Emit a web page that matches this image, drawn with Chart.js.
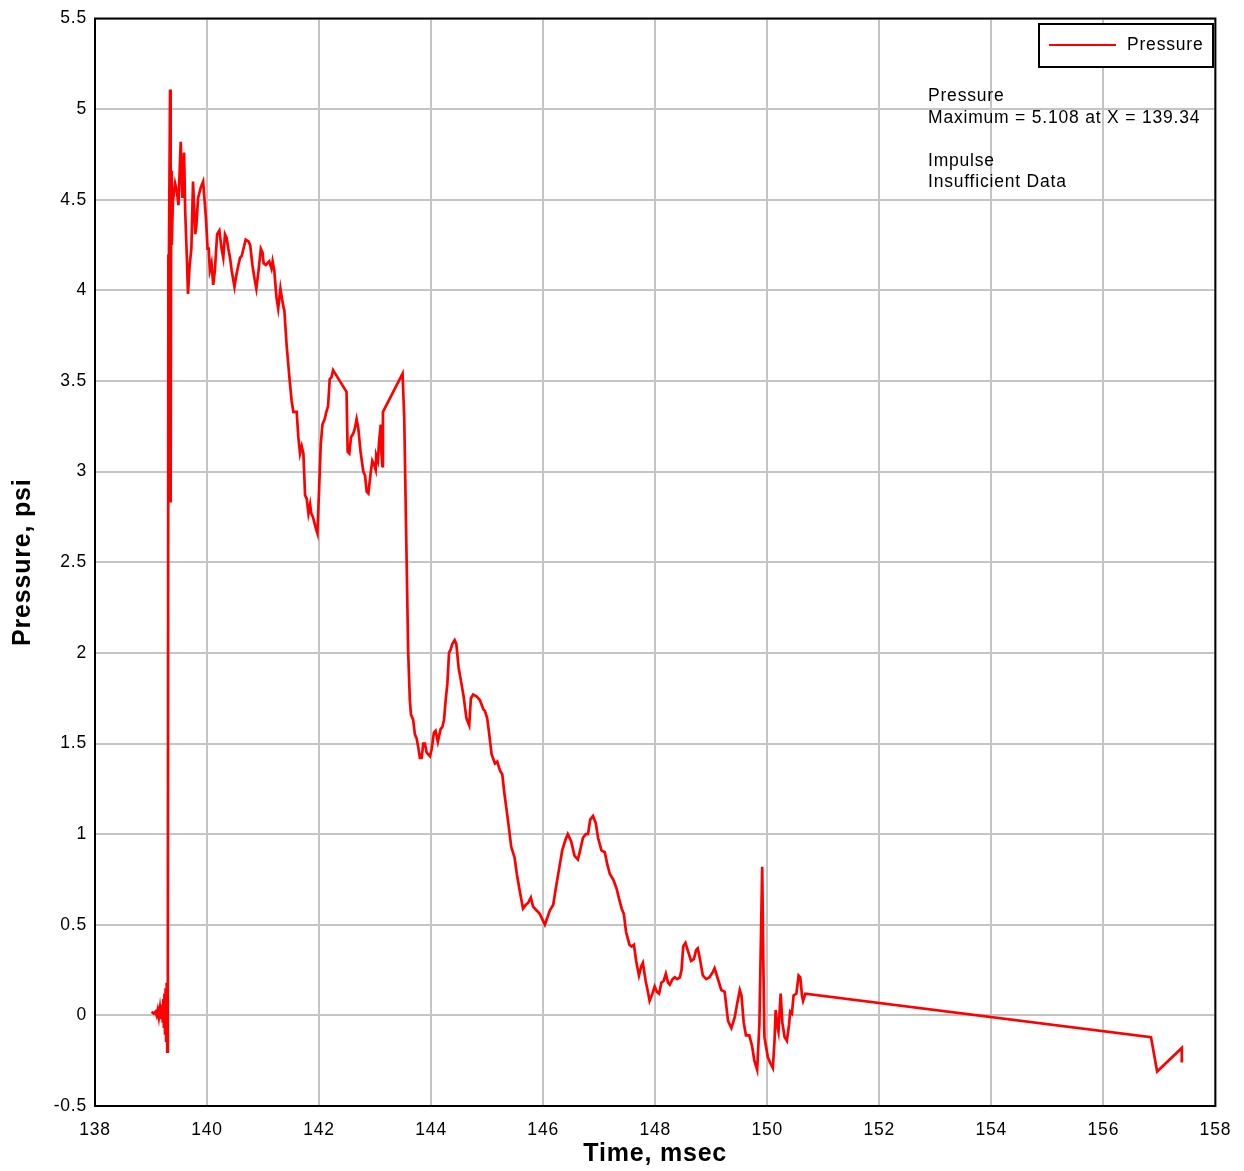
<!DOCTYPE html>
<html lang="en">
<head>
    <meta charset="UTF-8">
    <title>Pressure</title>
    <script src="https://cdn.jsdelivr.net/npm/chart.js"></script>
    <style>
        body { margin: 0; background: #fff; }
        canvas { display: block; }
    </style>
</head>
<body>
    <canvas id="pressureChart" width="1244" height="1171"></canvas>

    <script>
        // gauge record, time in msec
        var times = [
            139.01, 139.05, 139.08, 139.10, 139.12, 139.14, 139.16, 139.18, 139.20, 139.21,
            139.22, 139.23, 139.24, 139.25, 139.26, 139.27, 139.28, 139.29, 139.30, 139.31,
            139.32, 139.34, 139.35, 139.36, 139.37, 139.39, 139.43, 139.46, 139.49, 139.53,
            139.56, 139.59, 139.61, 139.64, 139.66, 139.69, 139.72, 139.75, 139.79, 139.81,
            139.84, 139.89, 139.93, 139.98, 140.01, 140.03, 140.05, 140.08, 140.11, 140.14,
            140.18, 140.22, 140.26, 140.29, 140.32, 140.35, 140.38, 140.41, 140.44, 140.49,
            140.52, 140.56, 140.59, 140.62, 140.65, 140.69, 140.74, 140.77, 140.81, 140.85,
            140.88, 140.92, 140.96, 140.99, 141.01, 141.05, 141.11, 141.15, 141.17, 141.20,
            141.24, 141.27, 141.31, 141.34, 141.37, 141.38, 141.42, 141.47, 141.51, 141.54,
            141.60, 141.63, 141.66, 141.69, 141.72, 141.75, 141.78, 141.81, 141.84, 141.86,
            141.89, 141.94, 141.97, 141.99, 142.03, 142.06, 142.10, 142.13, 142.16, 142.19,
            142.22, 142.25, 142.49, 142.51, 142.54, 142.57, 142.61, 142.64, 142.67, 142.70,
            142.74, 142.79, 142.82, 142.85, 142.88, 142.92, 142.95, 142.98, 143.01, 143.02,
            143.05, 143.07, 143.10, 143.11, 143.13, 143.14, 143.49, 143.52, 143.56, 143.59,
            143.62, 143.64, 143.68, 143.71, 143.74, 143.77, 143.80, 143.83, 143.86, 143.89,
            143.92, 143.98, 144.01, 144.05, 144.08, 144.12, 144.17, 144.20, 144.23, 144.26,
            144.29, 144.32, 144.35, 144.38, 144.42, 144.45, 144.49, 144.53, 144.58, 144.63,
            144.68, 144.71, 144.75, 144.81, 144.87, 144.93, 144.96, 145.00, 145.03, 145.08,
            145.14, 145.18, 145.23, 145.27, 145.31, 145.37, 145.43, 145.49, 145.53, 145.58,
            145.64, 145.69, 145.73, 145.78, 145.82, 145.88, 145.94, 146.03, 146.12, 146.18,
            146.22, 146.28, 146.34, 146.40, 146.44, 146.50, 146.56, 146.62, 146.66, 146.71,
            146.76, 146.80, 146.84, 146.89, 146.94, 146.98, 147.04, 147.10, 147.14, 147.19,
            147.25, 147.31, 147.35, 147.40, 147.44, 147.48, 147.54, 147.58, 147.62, 147.66,
            147.71, 147.75, 147.78, 147.83, 147.87, 147.90, 147.95, 147.99, 148.03, 148.07,
            148.11, 148.15, 148.19, 148.23, 148.26, 148.31, 148.35, 148.39, 148.44, 148.47,
            148.50, 148.54, 148.58, 148.64, 148.69, 148.73, 148.76, 148.80, 148.85, 148.91,
            148.97, 149.03, 149.06, 149.10, 149.18, 149.24, 149.30, 149.36, 149.42, 149.46,
            149.51, 149.54, 149.58, 149.62, 149.68, 149.73, 149.77, 149.82, 149.86, 149.91,
            149.93, 149.95, 150.01, 150.05, 150.10, 150.13, 150.15, 150.18, 150.20, 150.24,
            150.27, 150.31, 150.35, 150.39, 150.41, 150.44, 150.47, 150.52, 150.56, 150.59,
            150.62, 150.64, 150.68, 156.85, 156.96, 157.40, 157.40
        ];

        // pressure in psi
        var pressures = [
            0.02, 0.01, 0.02, 0.00, 0.03, -0.01, 0.04, -0.02, 0.06, -0.04,
            0.09, -0.07, 0.12, -0.10, 0.15, -0.14, 0.18, -0.20, 0.05, 4.19,
            4.20, 5.108, 2.83, 4.66, 4.25, 4.49, 4.59, 4.55, 4.47, 4.82,
            4.51, 4.76, 4.44, 4.18, 3.98, 4.14, 4.23, 4.60, 4.31, 4.36,
            4.51, 4.57, 4.60, 4.40, 4.23, 4.23, 4.11, 4.15, 4.03, 4.11,
            4.31, 4.33, 4.23, 4.18, 4.31, 4.29, 4.23, 4.18, 4.11, 4.02,
            4.08, 4.14, 4.18, 4.19, 4.23, 4.28, 4.27, 4.25, 4.14, 4.06,
            4.01, 4.11, 4.23, 4.21, 4.15, 4.14, 4.16, 4.12, 4.16, 4.11,
            3.96, 3.90, 4.01, 3.95, 3.90, 3.89, 3.70, 3.52, 3.39, 3.33,
            3.33, 3.19, 3.10, 3.14, 3.10, 2.87, 2.85, 2.77, 2.82, 2.77,
            2.75, 2.69, 2.66, 2.82, 3.15, 3.26, 3.29, 3.33, 3.36, 3.51,
            3.52, 3.56, 3.44, 3.11, 3.10, 3.19, 3.21, 3.24, 3.29, 3.24,
            3.11, 3.00, 2.98, 2.89, 2.88, 2.99, 3.06, 3.04, 3.01, 3.09,
            3.06, 3.16, 3.26, 3.12, 3.03, 3.33, 3.54, 3.30, 2.56, 2.01,
            1.74, 1.66, 1.63, 1.55, 1.53, 1.48, 1.42, 1.42, 1.50, 1.50,
            1.45, 1.43, 1.47, 1.56, 1.57, 1.51, 1.58, 1.59, 1.63, 1.74,
            1.83, 2.00, 2.02, 2.05, 2.07, 2.05, 1.92, 1.85, 1.76, 1.64,
            1.60, 1.75, 1.77, 1.76, 1.74, 1.69, 1.68, 1.64, 1.57, 1.44,
            1.39, 1.40, 1.35, 1.33, 1.22, 1.08, 0.93, 0.87, 0.78, 0.69,
            0.59, 0.61, 0.62, 0.65, 0.60, 0.58, 0.56, 0.50, 0.58, 0.61,
            0.69, 0.80, 0.91, 0.97, 1.00, 0.96, 0.88, 0.86, 0.91, 0.98,
            1.00, 1.00, 1.08, 1.10, 1.06, 0.98, 0.91, 0.90, 0.84, 0.78,
            0.75, 0.70, 0.65, 0.59, 0.56, 0.46, 0.39, 0.38, 0.39, 0.30,
            0.22, 0.27, 0.29, 0.19, 0.13, 0.08, 0.12, 0.16, 0.13, 0.12,
            0.18, 0.19, 0.23, 0.18, 0.17, 0.20, 0.21, 0.20, 0.21, 0.25,
            0.38, 0.40, 0.36, 0.30, 0.31, 0.36, 0.37, 0.31, 0.22, 0.20,
            0.21, 0.24, 0.26, 0.22, 0.14, 0.13, -0.03, -0.07, -0.01, 0.06,
            0.14, 0.11, -0.04, -0.11, -0.11, -0.17, -0.25, -0.30, -0.05, 0.82,
            0.30, -0.12, -0.23, -0.26, -0.29, -0.14, 0.03, -0.06, -0.09, 0.12,
            -0.04, -0.12, -0.14, -0.05, 0.02, 0.01, 0.11, 0.12, 0.22, 0.21,
            0.11, 0.08, 0.12, -0.12, -0.31, -0.18, -0.26
        ];

        var xTicks = [138, 140, 142, 144, 146, 148, 150, 152, 154, 156, 158];
        var yTicks = [-0.5, 0, 0.5, 1, 1.5, 2, 2.5, 3, 3.5, 4, 4.5, 5, 5.5];

        var points = times.map(function (t, i) {
            return { x: t, y: pressures[i] };
        });

        // peak for the summary text
        var peakIndex = 0;
        pressures.forEach(function (p, i) {
            if (p > pressures[peakIndex]) peakIndex = i;
        });

        var FONT = 'Liberation Sans, Arial, Helvetica, sans-serif';
        var TEXT_SIZE = 17.5;
        Chart.defaults.font.family = FONT;
        Chart.defaults.font.size = TEXT_SIZE;
        Chart.defaults.color = '#000';

        // slightly wider lettering for all labels
        var spacing = {
            id: 'spacing',
            beforeDraw: function (chart) {
                chart.ctx.letterSpacing = '0.8px';
            }
        };

        // frame, legend box and summary text inside the plot
        var overlay = {
            id: 'overlay',
            afterDraw: function (chart) {
                var ctx = chart.ctx;
                var a = chart.chartArea;
                ctx.save();
                ctx.strokeStyle = '#000';
                ctx.lineWidth = 2;
                ctx.strokeRect(a.left, a.top, a.right - a.left, a.bottom - a.top);

                // legend
                ctx.fillStyle = '#fff';
                ctx.fillRect(1039, 24, 174, 43);
                ctx.strokeRect(1039, 24, 174, 43);
                ctx.strokeStyle = '#ff0000';
                ctx.beginPath();
                ctx.moveTo(1049, 45);
                ctx.lineTo(1116, 45);
                ctx.stroke();
                ctx.fillStyle = '#000';
                ctx.font = TEXT_SIZE + 'px ' + FONT;
                ctx.textBaseline = 'middle';
                ctx.textAlign = 'left';
                ctx.fillText('Pressure', 1127, 45);

                // summary
                ctx.fillText('Pressure', 928, 96);
                ctx.fillText('Maximum = ' + pressures[peakIndex].toFixed(3) +
                    ' at X = ' + times[peakIndex].toFixed(2), 928, 118);
                ctx.fillText('Impulse', 928, 161);
                ctx.fillText('Insufficient Data', 928, 182);
                ctx.restore();
            }
        };

        new Chart(document.getElementById('pressureChart').getContext('2d'), {
            type: 'line',
            data: {
                datasets: [{
                    label: 'Pressure',
                    data: points,
                    borderColor: '#ff0000',
                    borderWidth: 2.7,
                    pointRadius: 0,
                    tension: 0,
                    fill: false
                }]
            },
            options: {
                responsive: false,
                animation: false,
                layout: { padding: { top: 17, right: 28, bottom: 0, left: 0 } },
                plugins: {
                    legend: { display: false },
                    tooltip: { enabled: false }
                },
                scales: {
                    x: {
                        type: 'linear',
                        min: 138,
                        max: 158,
                        afterBuildTicks: function (scale) {
                            scale.ticks = xTicks.map(function (v) { return { value: v }; });
                        },
                        afterFit: function (scale) { scale.height = 65; },
                        ticks: {
                            padding: 14,
                            maxRotation: 0,
                            callback: function (v) { return String(v); }
                        },
                        grid: { color: '#c4c4c4', lineWidth: 2, drawTicks: false },
                        border: { color: '#000', width: 2 },
                        title: {
                            display: true,
                            text: 'Time, msec',
                            font: { size: 25, weight: 'bold' },
                            padding: { top: 0, bottom: 2 }
                        }
                    },
                    y: {
                        min: -0.5,
                        max: 5.5,
                        afterBuildTicks: function (scale) {
                            scale.ticks = yTicks.map(function (v) { return { value: v }; });
                        },
                        afterFit: function (scale) { scale.width = 95; },
                        ticks: {
                            padding: 8,
                            callback: function (v) { return String(v); }
                        },
                        grid: { color: '#c4c4c4', lineWidth: 2, drawTicks: false },
                        border: { color: '#000', width: 2 },
                        title: {
                            display: true,
                            text: 'Pressure, psi',
                            font: { size: 25, weight: 'bold' },
                            padding: { top: 8, bottom: 0 }
                        }
                    }
                }
            },
            plugins: [spacing, overlay]
        });
    </script>
</body>
</html>
